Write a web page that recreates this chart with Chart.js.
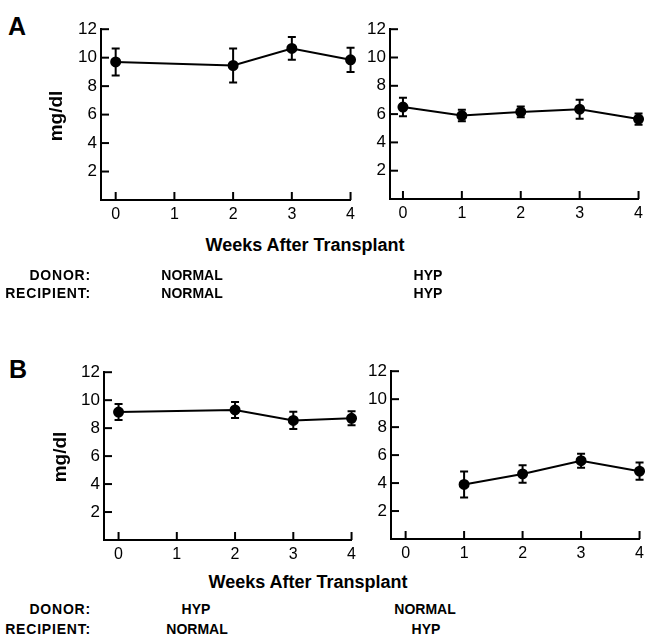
<!DOCTYPE html>
<html>
<head>
<meta charset="utf-8">
<script src="https://cdn.jsdelivr.net/npm/chart.js@4.4.1/dist/chart.umd.min.js"></script>
<style>
  html, body { margin: 0; padding: 0; background: #fff; overflow: hidden; }
  body { width: 645px; height: 641px; position: relative; font-family: "Liberation Sans", Arial, sans-serif; color: #000; }
  canvas { position: absolute; }
  .t { position: absolute; white-space: nowrap; line-height: 1; }
  .c { transform: translate(-50%, -50%); }
  .r { transform: translate(-100%, -50%); }
  .panel { font-size: 25px; font-weight: bold; }
  .ylab { font-size: 19px; font-weight: bold; transform: translate(-50%, -50%) rotate(-90deg); }
  .xlab { font-size: 18px; font-weight: bold; }
  .grp { font-size: 14px; font-weight: bold; }
  .lead { letter-spacing: 0.8px; }
</style>
</head>
<body>
<canvas id="a1"></canvas>
<canvas id="a2"></canvas>
<canvas id="b1"></canvas>
<canvas id="b2"></canvas>

<div class="t panel" style="left:8px;top:14px;">A</div>
<div class="t panel" style="left:9px;top:357px;">B</div>
<div class="t ylab" style="left:55px;top:116px;">mg/dl</div>
<div class="t ylab" style="left:59px;top:457px;">mg/dl</div>
<div class="t xlab c" style="left:305px;top:245px;">Weeks After Transplant</div>
<div class="t xlab c" style="left:308px;top:582px;">Weeks After Transplant</div>

<div class="t grp lead r" style="left:91px;top:275px;">DONOR:</div>
<div class="t grp lead r" style="left:91px;top:293px;">RECIPIENT:</div>
<div class="t grp c" style="left:192px;top:275px;">NORMAL</div>
<div class="t grp c" style="left:192px;top:293px;">NORMAL</div>
<div class="t grp c" style="left:428px;top:275px;">HYP</div>
<div class="t grp c" style="left:428px;top:293px;">HYP</div>

<div class="t grp lead r" style="left:91px;top:609px;">DONOR:</div>
<div class="t grp lead r" style="left:91px;top:629px;">RECIPIENT:</div>
<div class="t grp c" style="left:196px;top:609px;">HYP</div>
<div class="t grp c" style="left:197px;top:629px;">NORMAL</div>
<div class="t grp c" style="left:425px;top:609px;">NORMAL</div>
<div class="t grp c" style="left:426px;top:629px;">HYP</div>

<script>
// values (mean and error bar half-height, mg/dl)
const weekTicks = [0, 1, 2, 3, 4];
const mgTicks = [2, 4, 6, 8, 10, 12];

const weeksA1 = [0, 2, 3, 4];
const meanA1 = [9.7, 9.45, 10.65, 9.85];
const semA1 = [0.95, 1.2, 0.8, 0.85];

const weeksA2 = [0, 1, 2, 3, 4];
const meanA2 = [6.5, 5.9, 6.15, 6.35, 5.65];
const semA2 = [0.65, 0.4, 0.38, 0.67, 0.4];

const weeksB1 = [0, 2, 3, 4];
const meanB1 = [9.15, 9.3, 8.55, 8.7];
const semB1 = [0.57, 0.57, 0.62, 0.5];

const weeksB2 = [1, 2, 3, 4];
const meanB2 = [3.9, 4.65, 5.6, 4.85];
const semB2 = [0.93, 0.62, 0.5, 0.62];

const YW = 40, XH = 24;

// error bars + inward tick marks, placed through the chart scales
const extras = {
  id: 'extras',
  afterDatasetsDraw(chart) {
    const { ctx, scales: { x, y } } = chart;
    const ds = chart.data.datasets[0];
    ctx.save();
    ctx.strokeStyle = '#000';
    ctx.lineWidth = 2;
    ds.data.forEach((p, i) => {
      const px = x.getPixelForValue(p.x);
      const top = y.getPixelForValue(p.y + ds.sem[i]);
      const bot = y.getPixelForValue(p.y - ds.sem[i]);
      ctx.beginPath();
      ctx.moveTo(px, top); ctx.lineTo(px, bot);
      ctx.moveTo(px - 4, top); ctx.lineTo(px + 4, top);
      ctx.moveTo(px - 4, bot); ctx.lineTo(px + 4, bot);
      ctx.stroke();
    });
    // y ticks point into the plot
    const ax = chart.chartArea.left;
    mgTicks.forEach(v => {
      const py = y.getPixelForValue(v);
      ctx.beginPath();
      ctx.moveTo(ax, py); ctx.lineTo(ax + 8, py);
      ctx.stroke();
    });
    // x ticks point up
    const ay = chart.chartArea.bottom;
    weekTicks.forEach(v => {
      const px = x.getPixelForValue(v);
      ctx.beginPath();
      ctx.moveTo(px, ay); ctx.lineTo(px, ay - 8);
      ctx.stroke();
    });
    ctx.restore();
  }
};

function makePanel(id, box, xmin, weeks, means, sems) {
  const el = document.getElementById(id);
  const w = box.r - box.l + 60 + 8;
  const h = box.b - box.t + 14 + 30;
  el.style.left = (box.l - 60) + 'px';
  el.style.top = (box.t - 14) + 'px';
  el.style.width = w + 'px';
  el.style.height = h + 'px';
  el.width = w;
  el.height = h;

  return new Chart(el, {
    type: 'line',
    data: {
      datasets: [{
        data: weeks.map((wk, i) => ({ x: wk, y: means[i] })),
        sem: sems,
        borderColor: '#000',
        backgroundColor: '#000',
        borderWidth: 2,
        pointRadius: 4.5,
        pointHoverRadius: 4.5,
        pointStyle: 'circle',
        tension: 0,
        clip: false
      }]
    },
    options: {
      responsive: false,
      animation: false,
      events: [],
      layout: { padding: { left: 60 - YW, top: 14, right: 8, bottom: 30 - XH } },
      plugins: { legend: { display: false }, tooltip: { enabled: false } },
      scales: {
        x: {
          type: 'linear',
          min: xmin,
          max: 4,
          afterBuildTicks: s => { s.ticks = weekTicks.map(v => ({ value: v })); },
          afterFit: s => { s.height = XH; },
          grid: { drawOnChartArea: false, drawTicks: false },
          border: { display: true, color: '#000', width: 2 },
          ticks: { color: '#000', font: { family: 'Liberation Sans', size: 16 }, padding: 5, maxRotation: 0 }
        },
        y: {
          type: 'linear',
          min: 0,
          max: 12,
          afterBuildTicks: s => { s.ticks = mgTicks.map(v => ({ value: v })); },
          afterFit: s => { s.width = YW; },
          grid: { drawOnChartArea: false, drawTicks: false },
          border: { display: true, color: '#000', width: 2 },
          ticks: { color: '#000', font: { family: 'Liberation Sans', size: 17 }, padding: 4 }
        }
      }
    },
    plugins: [extras]
  });
}

makePanel('a1', { l: 101, t: 29, r: 352, b: 200 }, -0.25, weeksA1, meanA1, semA1);
makePanel('a2', { l: 390, t: 29, r: 640, b: 199 }, -0.22, weeksA2, meanA2, semA2);
makePanel('b1', { l: 104, t: 372, r: 353, b: 540 }, -0.25, weeksB1, meanB1, semB1);
makePanel('b2', { l: 391, t: 371, r: 641, b: 539 }, -0.25, weeksB2, meanB2, semB2);
</script>
</body>
</html>
